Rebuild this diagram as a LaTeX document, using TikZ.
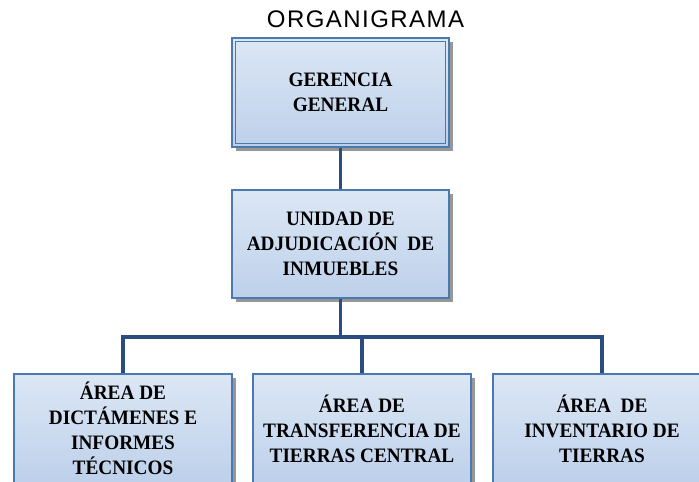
\documentclass[tikz,border=0pt]{standalone}
\usepackage{fontspec}
\setmainfont{Liberation Serif}[FakeStretch=0.94]
\newfontfamily\titlefont[LetterSpace=6]{Liberation Sans}
\usetikzlibrary{shadows}
\definecolor{connblue}{HTML}{2A4D80}
\definecolor{boxedge}{HTML}{4A78B0}
\definecolor{boxtop}{HTML}{DCE7F5}
\definecolor{boxbot}{HTML}{BDD0EA}
\tikzset{
  orgbox/.style={draw=boxedge, line width=1.2pt, top color=boxtop, bottom color=boxbot,
    rectangle, align=center, inner sep=0pt,
    font=\fontsize{20.5}{25}\selectfont\bfseries,
    drop shadow={shadow xshift=4pt, shadow yshift=-4pt, fill=black!45, opacity=0.9}},
  conn/.style={draw=connblue, line width=3.6pt, line join=miter},
  innerline/.style={draw=boxedge, line width=1.2pt}
}
\begin{document}
\begin{tikzpicture}[x=1pt,y=-1pt]
\path[use as bounding box] (0,0) rectangle (699,482);
\clip (0,0) rectangle (699,482);
\fill[white] (0,0) rectangle (699,482);

\node[anchor=base, font=\titlefont\fontsize{24}{28}\selectfont] (title) at (365.5,27) {ORGANIGRAMA};

\node[orgbox, minimum width=217pt, minimum height=109pt] (g) at (340.5,92.5) {GERENCIA\\GENERAL};
\draw[innerline] ([shift={(4,4)}]g.north west) rectangle ([shift={(-4,-4)}]g.south east);

\node[orgbox, minimum width=217pt, minimum height=108pt] (u) at (340.5,244) {UNIDAD DE\\ADJUDICACIÓN\ \ DE\\INMUEBLES};

\node[orgbox, minimum width=218pt, minimum height=109pt] (b1) at (123,428.5) {ÁREA DE\\DICTÁMENES E\\INFORMES\\TÉCNICOS};
\node[orgbox, minimum width=218pt, minimum height=109pt] (b2) at (362,428.5) {ÁREA DE\\TRANSFERENCIA DE\\TIERRAS CENTRAL};
\node[orgbox, minimum width=218pt, minimum height=109pt] (b3) at (602,428.5) {ÁREA\ \ DE\\INVENTARIO DE\\TIERRAS};

\coordinate (bar) at (340.5,337);
\draw[conn] (g.south) -- (u.north);
\draw[conn] (u.south) -- (bar);
\draw[conn] (b1.north) -- (b1.north |- bar) -- (b3.north |- bar) -- (b3.north);
\draw[conn] (b2.north) -- (b2.north |- bar);
\end{tikzpicture}
\end{document}
